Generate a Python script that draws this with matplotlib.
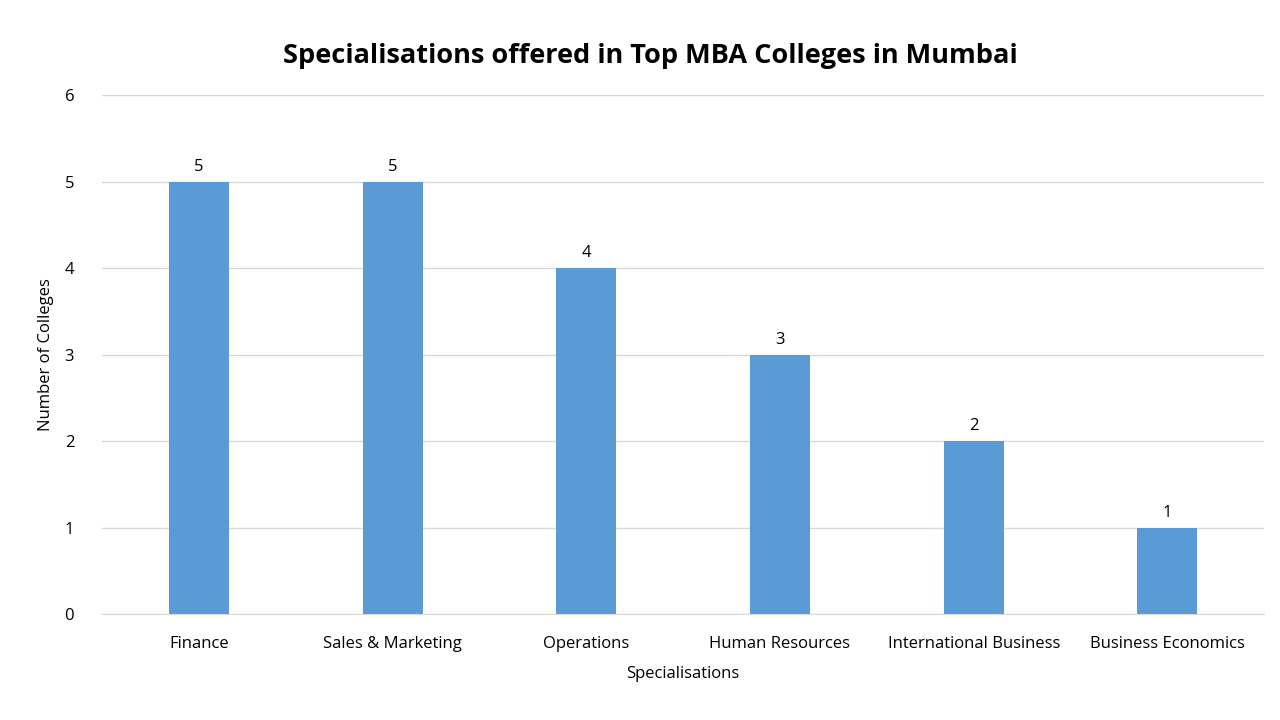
import matplotlib.pyplot as plt

categories = ["Finance", "Sales & Marketing", "Operations", "Human Resources",
              "International Business", "Business Economics"]
values = [5, 5, 4, 3, 2, 1]

plt.rcParams['font.family'] = ['Open Sans', 'DejaVu Sans']

fig = plt.figure(figsize=(12.8, 7.2), dpi=100)
ax = fig.add_axes([0.0797, 0.147, 0.908, 0.721])

x = range(len(categories))
bars = ax.bar(x, values, width=0.31, color='#5b9bd5', zorder=2)
for b, v in zip(bars, values):
    ax.text(b.get_x() + b.get_width() / 2, v + 0.08, str(v), ha='center', va='bottom', fontsize=12)

ax.set_xlim(-0.5, len(categories) - 0.5)
ax.set_ylim(0, 6)
ax.set_yticks(range(7))
ax.set_xticks(list(x))
ax.set_xticklabels(categories, fontsize=12)
ax.tick_params(axis='y', labelsize=12, length=0, pad=20)
ax.tick_params(axis='x', length=0, pad=16)
ax.grid(axis='y', color='#d9d9d9', linewidth=1, zorder=0)
for s in ['top', 'right', 'left']:
    ax.spines[s].set_visible(False)
ax.spines['bottom'].set_color('#d9d9d9')

ax.set_xlabel("Specialisations", fontsize=12, labelpad=10)
ax.set_ylabel("Number of Colleges", fontsize=12, labelpad=8)
fig.text(0.508, 0.922, "Specialisations offered in Top MBA Colleges in Mumbai",
         ha='center', va='center', fontsize=19.5, fontweight='bold')

fig.savefig("out.png", dpi=100)
